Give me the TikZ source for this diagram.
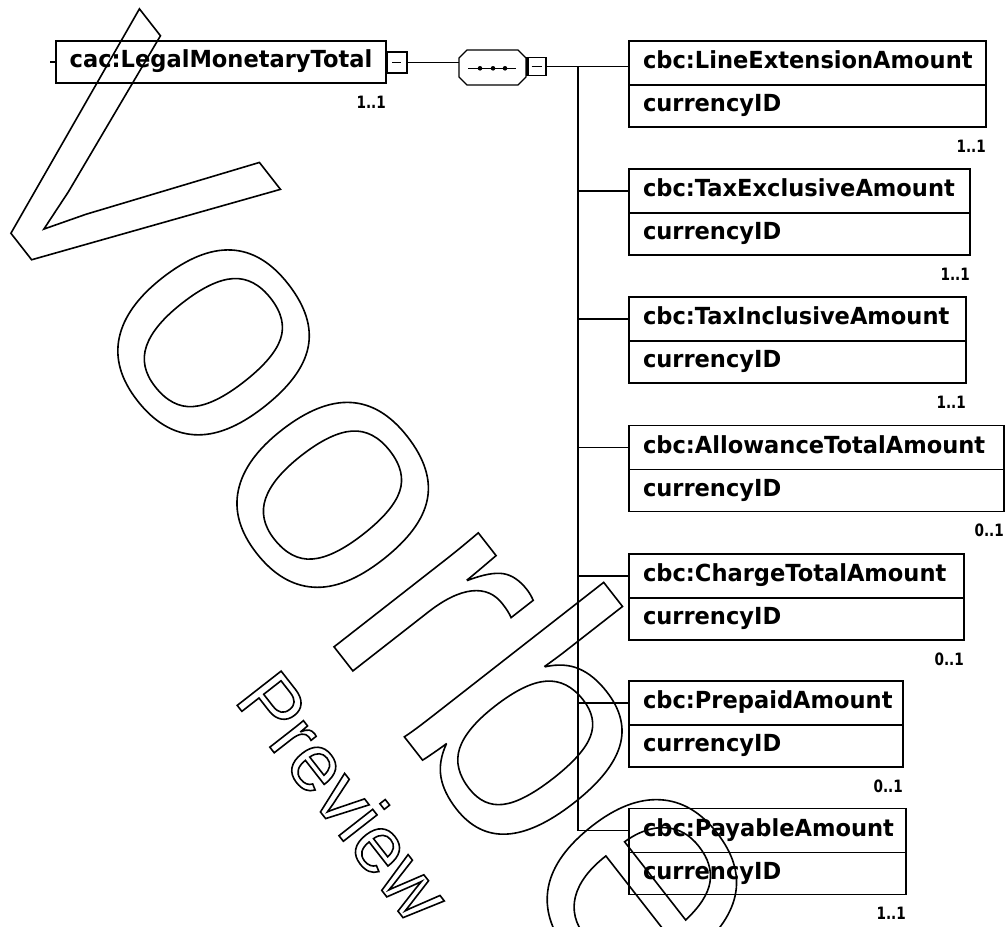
\documentclass[tikz,border=0pt]{standalone}
\usepackage{fontspec}
\newfontfamily\dvs[FakeStretch=0.96]{DejaVu Sans}
\newfontfamily\dvm[FakeStretch=0.8]{DejaVu Sans}
\newfontfamily\wmfont{Liberation Sans}
\newcommand\outl[1]{\special{pdf:literal direct 1.6 w 1 Tr}#1\special{pdf:literal direct 0 Tr}}
\newcommand\hstrut{\rule[-6pt]{0pt}{21pt}}
\tikzset{
  ln/.style={line width=1.3pt, draw=black},
  elhead/.style={ln, outer sep=0pt, anchor=north west, inner xsep=14pt, inner ysep=0pt,
     minimum height=44pt, align=left, font=\dvs\bfseries\fontsize{23.5}{26}\selectfont},
  elattr/.style={ln, outer sep=0pt, anchor=north west, inner xsep=14pt, inner ysep=0pt,
     minimum height=42pt, align=left, font=\dvs\bfseries\fontsize{23.5}{26}\selectfont},
  mult/.style={anchor=east, inner sep=0pt, font=\dvm\bfseries\fontsize{17}{18}\selectfont},
  minusbox/.style={ln, outer sep=0pt, inner sep=0pt, fill=white},
  wmark/.style={inner sep=0pt, anchor=base west, font=\wmfont\fontsize{348}{348}\selectfont},
  wmarksmall/.style={inner sep=0pt, anchor=base west, font=\wmfont\fontsize{81}{81}\selectfont},
}
\begin{document}
\begin{tikzpicture}[x=1pt, y=-1pt]
\useasboundingbox (0,0) rectangle (1006,926);
\clip (0,0) rectangle (1006,926);
\fill[white] (0,0) rectangle (1006,926);

% root element
\node[ln, outer sep=0pt, minimum width=330pt, minimum height=42pt, inner sep=0pt,
      font=\dvs\bfseries\fontsize{23.5}{26}\selectfont] (root) at (221,62) {\hstrut cac:LegalMonetaryTotal};
\coordinate (rin) at (50,62);
\draw[ln] (rin) -- (root.west);
\node[mult] (rootm) at (386,102) {1..1};
\node[minusbox, minimum width=21pt, minimum height=21pt] (rmin) at (396.5,62.5) {};
\draw[line width=2.6pt] ([xshift=1pt]rmin.north west) -- ([xshift=1pt]rmin.south west);
\draw[ln] ([xshift=-4.5pt]rmin.center) -- ([xshift=4.5pt]rmin.center);

% sequence compositor
\node[inner sep=0pt, outer sep=0pt, minimum width=67pt, minimum height=35pt] (seq) at (492.5,67.5) {};
\draw[ln] (rmin.east) -- (rmin.east -| seq.west);
\draw[ln] ([xshift=8pt]seq.north west) -- ([xshift=-8pt]seq.north east)
  -- ([yshift=-8pt]seq.north east) -- ([yshift=8pt]seq.south east)
  -- ([xshift=-8pt]seq.south east) -- ([xshift=8pt]seq.south west)
  -- ([yshift=8pt]seq.south west) -- ([yshift=-8pt]seq.north west) -- cycle;
\draw[ln] ([xshift=-24.5pt,yshift=-0.8pt]seq.center) -- ([xshift=23.5pt,yshift=-0.8pt]seq.center);
\foreach \dx in {-12.5,0.5,12.5}
  \fill ([xshift=\dx pt,yshift=-0.8pt]seq.center) circle (2.3pt);
\node[minusbox, minimum width=19pt, minimum height=18pt] (smin) at (536.5,66.5) {};
\draw[line width=2.6pt] ([xshift=1pt]smin.north west) -- ([xshift=1pt]smin.south west);
\draw[ln] ([xshift=-5pt]smin.center) -- ([xshift=5.5pt]smin.center);

% child elements
\node[elhead, text width=329pt] (b1h) at (629,41) {\hstrut cbc:LineExtensionAmount};
\node[elattr, text width=329pt] (b1a) at (b1h.south west) {\hstrut currencyID};
\node[mult] (m1) at ([yshift=-19pt]b1a.south east) {1..1};

\node[elhead, text width=313pt] (b2h) at (629,169) {\hstrut cbc:TaxExclusiveAmount};
\node[elattr, text width=313pt] (b2a) at (b2h.south west) {\hstrut currencyID};
\node[mult] (m2) at ([yshift=-19pt]b2a.south east) {1..1};

\node[elhead, text width=309pt] (b3h) at (629,297) {\hstrut cbc:TaxInclusiveAmount};
\node[elattr, text width=309pt] (b3a) at (b3h.south west) {\hstrut currencyID};
\node[mult] (m3) at ([yshift=-19pt]b3a.south east) {1..1};

\node[elhead, text width=347pt] (b4h) at (629,425.5) {\hstrut cbc:AllowanceTotalAmount};
\node[elattr, text width=347pt] (b4a) at (b4h.south west) {\hstrut currencyID};
\node[mult] (m4) at ([yshift=-19pt]b4a.south east) {0..1};

\node[elhead, text width=307pt] (b5h) at (629,554) {\hstrut cbc:ChargeTotalAmount};
\node[elattr, text width=307pt] (b5a) at (b5h.south west) {\hstrut currencyID};
\node[mult] (m5) at ([yshift=-19pt]b5a.south east) {0..1};

\node[elhead, text width=246pt] (b6h) at (629,681) {\hstrut cbc:PrepaidAmount};
\node[elattr, text width=246pt] (b6a) at (b6h.south west) {\hstrut currencyID};
\node[mult] (m6) at ([yshift=-19pt]b6a.south east) {0..1};

\node[elhead, text width=249pt] (b7h) at (629,808.5) {\hstrut cbc:PayableAmount};
\node[elattr, text width=249pt] (b7a) at (b7h.south west) {\hstrut currencyID};
\node[mult] (m7) at ([yshift=-19pt]b7a.south east) {1..1};

% connectors
\coordinate (tk) at (578,66.5);
\draw[ln] (smin.east) -- (smin.east -| b1h.west);
\draw[ln] (tk) -- (tk |- b7h.west);
\foreach \b in {b2h,b3h,b4h,b5h,b6h,b7h}
  \draw[ln] (tk |- \b.west) -- (\b.west);

% watermark
\node[wmark, rotate=-52] (wmA) at (-50.3,154.9) {\outl{Voorbeeld}};
\node[wmarksmall, rotate=-52] (wmB) at (233,700) {\outl{Preview}};
\end{tikzpicture}
\end{document}
